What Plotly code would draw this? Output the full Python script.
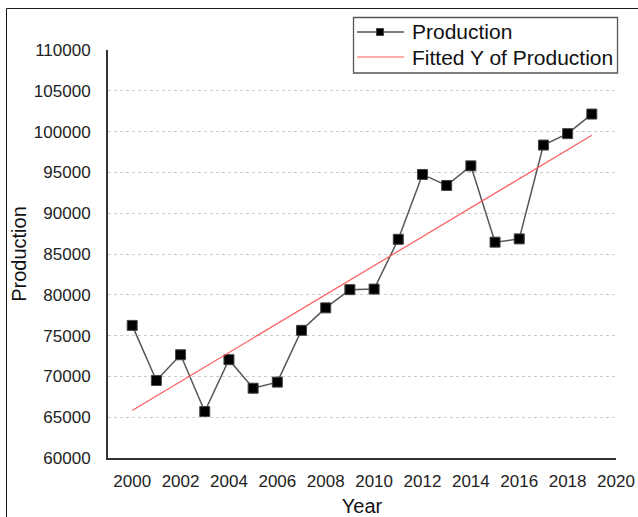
import numpy as np
import plotly.graph_objects as go

# Annual production series
years = list(range(2000, 2020))
production = [76250, 69500, 72650, 65700, 72050, 68550, 69300, 75650, 78400, 80630,
              80700, 86800, 94750, 93400, 95800, 86450, 86850, 98350, 99750, 102150]

# Axis ticks
x_ticks = list(range(2000, 2021, 2))
y_ticks = list(range(60000, 110001, 5000))

# Linear least-squares fit of production against year
slope, intercept = np.polyfit(years, production, 1)
fitted = [slope * yr + intercept for yr in years]

FONT = "Liberation Sans, Arial, sans-serif"
W, H = 638, 517
ML, MR, MT, MB = 108, 22, 50, 59
PW, PH = W - ML - MR, H - MT - MB


def px(x):
    """Horizontal pixel position -> paper coordinate."""
    return (x - ML) / PW


def py(y):
    """Vertical pixel position (from top) -> paper coordinate."""
    return (H - MB - y) / PH


fig = go.Figure()
fig.add_trace(go.Scatter(
    x=years, y=production, mode="lines+markers", name="Production",
    line=dict(color="#555555", width=1.5),
    marker=dict(symbol="square", size=10, color="#000000",
                line=dict(color="#444444", width=1)),
    showlegend=False,
))
fig.add_trace(go.Scatter(
    x=years, y=fitted, mode="lines", name="Fitted Y of Production",
    line=dict(color="#ff5a5a", width=1.2),
    showlegend=False,
))

shapes = [
    # Outer frame (top and left edges)
    dict(type="line", x0=px(6.5), y0=py(8.5), x1=px(640), y1=py(8.5),
         line=dict(color="#1a1a1a", width=1)),
    dict(type="line", x0=px(6.5), y0=py(8.5), x1=px(6.5), y1=py(520),
         line=dict(color="#1a1a1a", width=1)),
    # Legend box
    dict(type="rect", x0=px(353.5), y0=py(17.5), x1=px(617.5), y1=py(73),
         fillcolor="white", line=dict(color="#555555", width=1.3), layer="above"),
    # Legend sample: Production (line + square marker)
    dict(type="line", x0=px(357), y0=py(32), x1=px(404), y1=py(32),
         line=dict(color="#555555", width=1.5), layer="above"),
    dict(type="rect", x0=px(376.5), y0=py(28.5), x1=px(383.5), y1=py(35.5),
         fillcolor="#000000", line=dict(color="#444444", width=1), layer="above"),
    # Legend sample: fitted line
    dict(type="line", x0=px(357), y0=py(57), x1=px(404), y1=py(57),
         line=dict(color="#ff5a5a", width=1.2), layer="above"),
]
for s in shapes:
    s.update(xref="paper", yref="paper")

legend_labels = [("Production", 32), ("Fitted Y of Production", 57)]
annotations = [
    dict(text=label, x=px(410), y=py(yc), xref="paper", yref="paper",
         xanchor="left", yanchor="middle", showarrow=False,
         font=dict(family=FONT, size=21, color="#111111"))
    for label, yc in legend_labels
]

fig.update_layout(
    width=W, height=H,
    margin=dict(l=ML, r=MR, t=MT, b=MB, autoexpand=False),
    paper_bgcolor="white", plot_bgcolor="white",
    font=dict(family=FONT, color="#222222"),
    showlegend=False,
    shapes=shapes,
    annotations=annotations,
    xaxis=dict(
        range=[1999, 2020], tickvals=x_ticks, ticktext=[str(v) for v in x_ticks],
        showgrid=False, zeroline=False, automargin=False,
        showline=True, linecolor="#333333", linewidth=2,
        ticks="", ticklabelstandoff=7,
        tickfont=dict(size=17, color="#222222"),
        title=dict(text="Year", font=dict(size=20, color="#111111"), standoff=15),
    ),
    yaxis=dict(
        range=[60000, 110000], tickvals=y_ticks, ticktext=[str(v) for v in y_ticks],
        showgrid=True, gridcolor="#cccccc", gridwidth=1, griddash="dot",
        zeroline=False, automargin=False,
        showline=True, linecolor="#333333", linewidth=2,
        ticks="", ticklabelstandoff=12,
        tickfont=dict(size=17, color="#222222"),
        title=dict(text="Production", font=dict(size=20, color="#111111"), standoff=2),
    ),
)

fig.write_html("out.html")
